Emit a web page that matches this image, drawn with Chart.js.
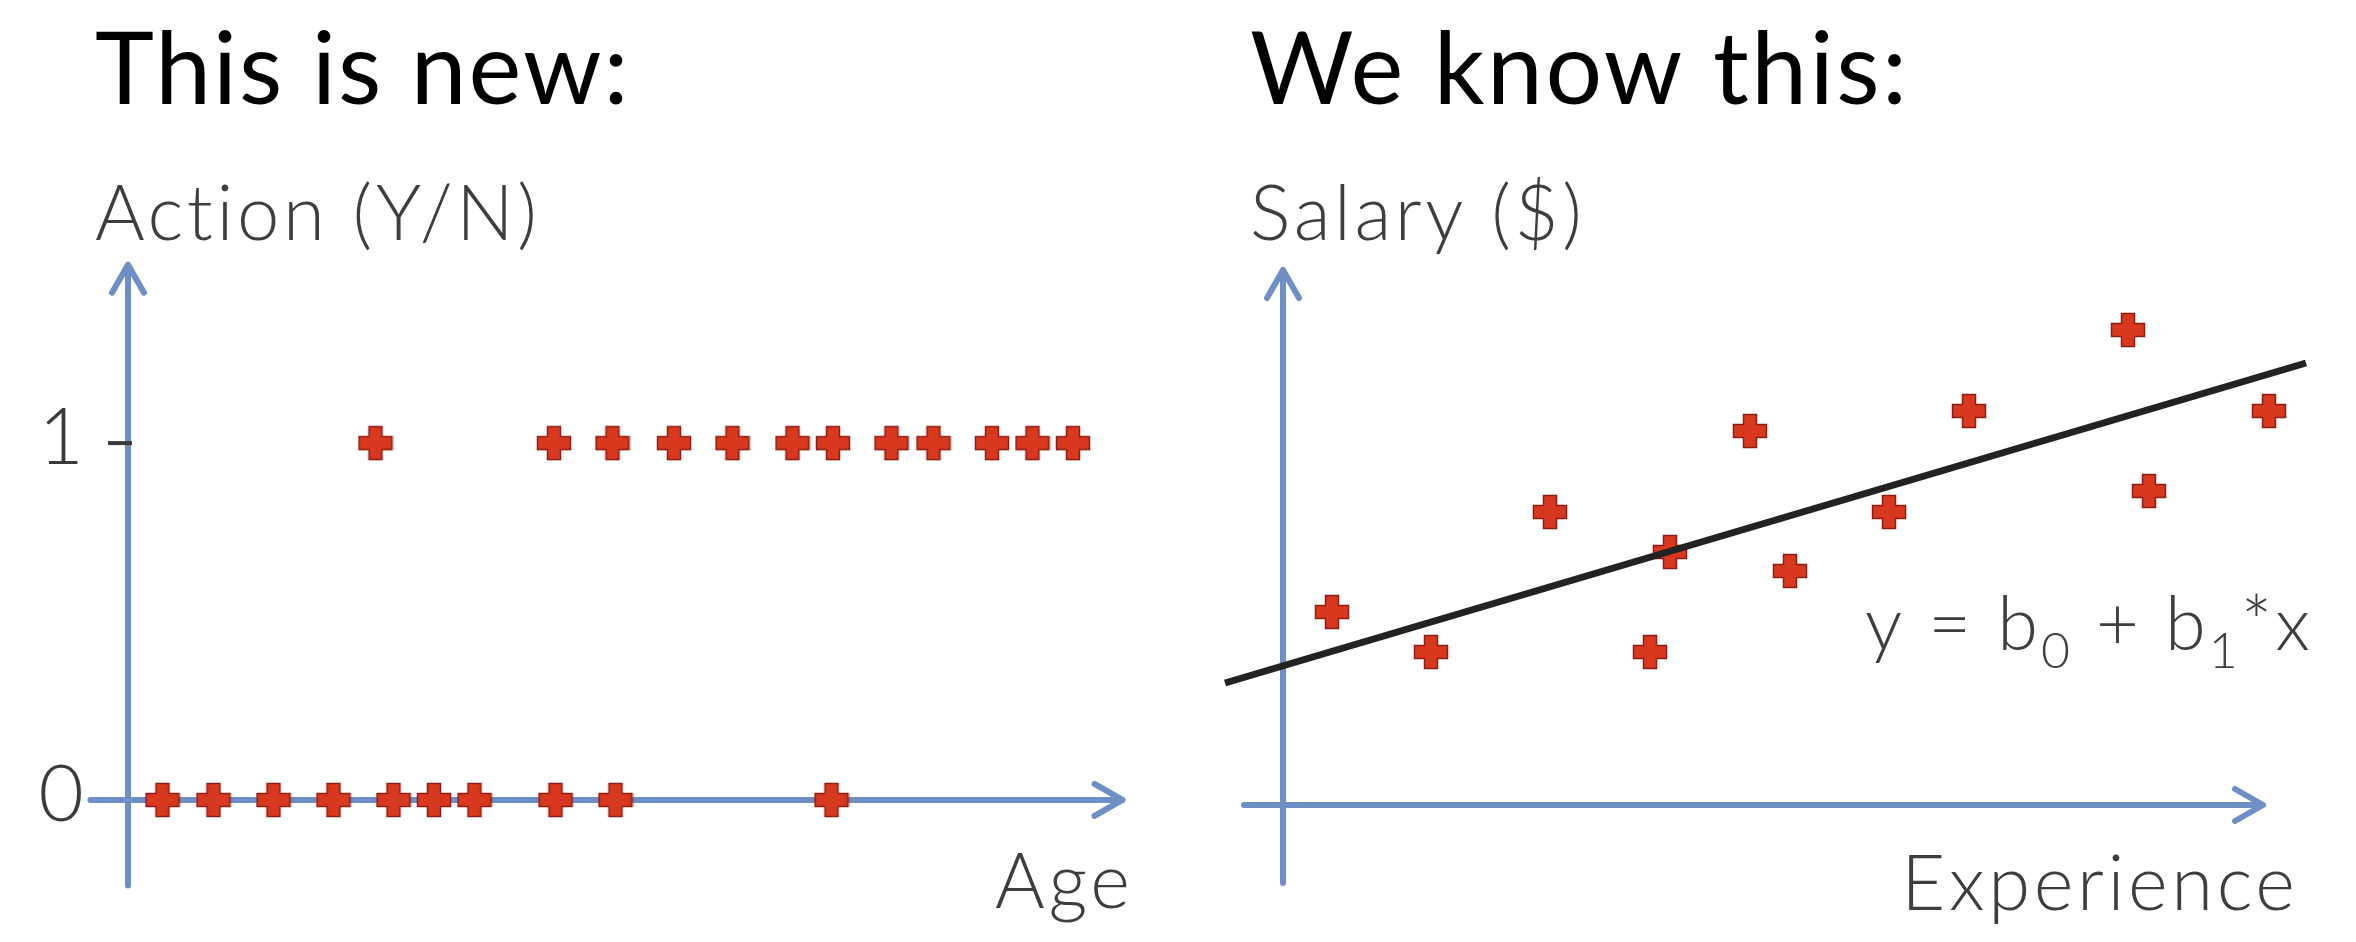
<!DOCTYPE html>
<html>
<head>
<meta charset="utf-8">
<script src="https://cdn.jsdelivr.net/npm/chart.js@4.4.1/dist/chart.umd.min.js"></script>
<style>
  html, body { margin: 0; padding: 0; background: #fff; }
  #wrap { width: 2356px; height: 942px; display: flex; }
  canvas { display: block; }
</style>
</head>
<body>
<div id="wrap">
  <canvas id="logit" width="1178" height="942"></canvas>
  <canvas id="linear" width="1178" height="942"></canvas>
</div>
<script>
// left panel: did the person act (0/1) against age
const ageNo = [20.3, 23.7, 27.7, 31.7, 35.7, 38.4, 41.1, 46.5, 50.5, 64.9];
const ageYes = [34.5, 46.4, 50.3, 54.4, 58.3, 62.3, 65.0, 68.9, 71.7, 75.6, 78.3, 81.0];
const actionTicks = [0, 1];

// right panel: salary ($k) against years of experience
const experience = [0.49, 1.48, 2.67, 3.67, 3.87, 4.67, 5.07, 6.06, 6.86, 8.45, 8.66, 9.86];
const salary = [38.6, 30.6, 58.6, 30.6, 50.6, 74.8, 46.8, 58.6, 78.8, 95.0, 62.8, 78.8];
const fitX = [-0.58, 10.23];
const fitY = [24.4, 88.4];

const FONT = 'Lato, "Open Sans", "DejaVu Sans", sans-serif';
const AXIS_BLUE = '#6d8fc6';
const LABEL_GREY = '#3e3e3e';

// filled red plus used as the marker
function makePlus() {
  const c = document.createElement('canvas');
  c.width = 36; c.height = 36;
  const g = c.getContext('2d');
  const a = 6.5, r = 16.5, m = 18;
  g.beginPath();
  g.moveTo(m - a, m - r); g.lineTo(m + a, m - r); g.lineTo(m + a, m - a);
  g.lineTo(m + r, m - a); g.lineTo(m + r, m + a); g.lineTo(m + a, m + a);
  g.lineTo(m + a, m + r); g.lineTo(m - a, m + r); g.lineTo(m - a, m + a);
  g.lineTo(m - r, m + a); g.lineTo(m - r, m - a); g.lineTo(m - a, m - a);
  g.closePath();
  g.fillStyle = '#d8381d';
  g.fill();
  g.lineWidth = 1.5;
  g.strokeStyle = '#8f1c14';
  g.stroke();
  return c;
}
const plus = makePlus();

function drawAxes(chart, ax) {
  const { ctx, scales: { x, y } } = chart;
  const x0 = x.getPixelForValue(ax.xOrigin);
  const y0 = y.getPixelForValue(ax.yOrigin);
  const xs = x.getPixelForValue(ax.xStart), xe = x.getPixelForValue(ax.xEnd);
  const ys = y.getPixelForValue(ax.yStart), ye = y.getPixelForValue(ax.yEnd);
  ctx.save();
  ctx.strokeStyle = AXIS_BLUE;
  ctx.lineWidth = 6;
  ctx.lineCap = 'round';
  ctx.lineJoin = 'round';
  ctx.beginPath();
  ctx.moveTo(xs, y0); ctx.lineTo(xe, y0);
  ctx.moveTo(xe - 28, y0 - 16); ctx.lineTo(xe, y0); ctx.lineTo(xe - 28, y0 + 16);
  ctx.moveTo(x0, ys); ctx.lineTo(x0, ye);
  ctx.moveTo(x0 - 16, ye + 28); ctx.lineTo(x0, ye); ctx.lineTo(x0 + 16, ye + 28);
  ctx.stroke();
  ctx.restore();
}

function text(ctx, str, px, py, opts) {
  ctx.save();
  ctx.font = opts.font;
  ctx.fillStyle = opts.color || LABEL_GREY;
  ctx.textAlign = opts.align || 'left';
  ctx.textBaseline = 'alphabetic';
  ctx.letterSpacing = (opts.spacing || 0) + 'px';
  ctx.fillText(str, px, py);
  ctx.restore();
}

function textWidth(ctx, str, font, spacing) {
  ctx.save();
  ctx.font = font;
  ctx.letterSpacing = (spacing || 0) + 'px';
  const w = ctx.measureText(str).width;
  ctx.restore();
  return w;
}

function baseOptions(xr, yr, pad) {
  return {
    responsive: false,
    animation: false,
    devicePixelRatio: 1,
    layout: { padding: pad, autoPadding: false },
    plugins: { legend: { display: false }, tooltip: { enabled: false } },
    scales: {
      x: { type: 'linear', display: false, min: xr[0], max: xr[1] },
      y: { type: 'linear', display: false, min: yr[0], max: yr[1] }
    }
  };
}

const TITLE_FONT = '400 100px ' + FONT;
const LABEL_FONT = '300 76px ' + FONT;

// ---- left chart ----
new Chart(document.getElementById('logit'), {
  type: 'scatter',
  data: {
    datasets: [
      { data: ageNo.map(a => ({ x: a, y: 0 })), pointStyle: plus, pointRadius: 10, clip: false },
      { data: ageYes.map(a => ({ x: a, y: 1 })), pointStyle: plus, pointRadius: 10, clip: false }
    ]
  },
  options: baseOptions([10, 86], [-0.3, 1.6], { left: 8, right: 30, top: 229, bottom: 35 }),
  plugins: [{
    id: 'logitDecor',
    beforeDatasetsDraw(chart) {
      drawAxes(chart, { xOrigin: 18, yOrigin: 0, xStart: 15.5, xEnd: 84.3, yStart: -0.24, yEnd: 1.5 });
      const { ctx, scales: { x, y } } = chart;
      const x0 = x.getPixelForValue(18);
      ctx.save();
      ctx.strokeStyle = '#3a3a3a';
      ctx.lineWidth = 4;
      actionTicks.forEach(v => {
        const py = y.getPixelForValue(v);
        if (v !== 0) {
          ctx.beginPath(); ctx.moveTo(x0 - 20, py); ctx.lineTo(x0 + 4, py); ctx.stroke();
        }
        text(ctx, String(v), 61, py + 21, { font: '300 78px ' + FONT, align: 'center', color: '#3a3a3a' });
      });
      ctx.restore();
    },
    afterDraw(chart) {
      const ctx = chart.ctx;
      text(ctx, 'This is new:', 95, 104, { font: TITLE_FONT, color: '#000', spacing: 2 });
      text(ctx, 'Action (Y/N)', 95, 240, { font: LABEL_FONT, spacing: 3.6 });
      const w = textWidth(ctx, 'Age', LABEL_FONT, 3.6);
      text(ctx, 'Age', 1130 - w + 3.6, 908, { font: LABEL_FONT, spacing: 3.6 });
    }
  }]
});

// ---- right chart ----
new Chart(document.getElementById('linear'), {
  type: 'scatter',
  data: {
    datasets: [
      {
        data: fitX.map((v, i) => ({ x: v, y: fitY[i] })),
        showLine: true, borderColor: '#222', borderWidth: 7, pointRadius: 0, clip: false
      },
      { data: experience.map((v, i) => ({ x: v, y: salary[i] })), pointStyle: plus, pointRadius: 10, clip: false }
    ]
  },
  options: baseOptions([-0.8, 10.5], [-25, 115], { left: 25, right: 23, top: 230, bottom: 12 }),
  plugins: [{
    id: 'linearDecor',
    beforeDatasetsDraw(chart) {
      drawAxes(chart, { xOrigin: 0, yOrigin: 0, xStart: -0.39, xEnd: 9.8, yStart: -15.6, yEnd: 107 });
    },
    afterDraw(chart) {
      const ctx = chart.ctx;
      text(ctx, 'We know this:', 72, 104, { font: TITLE_FONT, color: '#000', spacing: 2.5 });
      text(ctx, 'Salary ($)', 72, 240, { font: LABEL_FONT, spacing: 3.6 });
      const w = textWidth(ctx, 'Experience', LABEL_FONT, 3.6);
      text(ctx, 'Experience', 1117 - w + 3.6, 910, { font: LABEL_FONT, spacing: 3.6 });
      // regression formula with subscripts, right aligned
      const parts = [
        { t: 'y = b', sub: false }, { t: '0', sub: true },
        { t: ' + b', sub: false }, { t: '1', sub: true }, { t: '*x', sub: false }
      ];
      const big = '300 74px ' + FONT, small = '300 50px ' + FONT;
      let total = 0;
      parts.forEach(p => { total += textWidth(ctx, p.t, p.sub ? small : big, 3); });
      let px = 1132 - total + 3;
      parts.forEach(p => {
        const f = p.sub ? small : big;
        text(ctx, p.t, px, p.sub ? 668 : 650, { font: f, spacing: 3 });
        px += textWidth(ctx, p.t, f, 3);
      });
    }
  }]
});
</script>
</body>
</html>
